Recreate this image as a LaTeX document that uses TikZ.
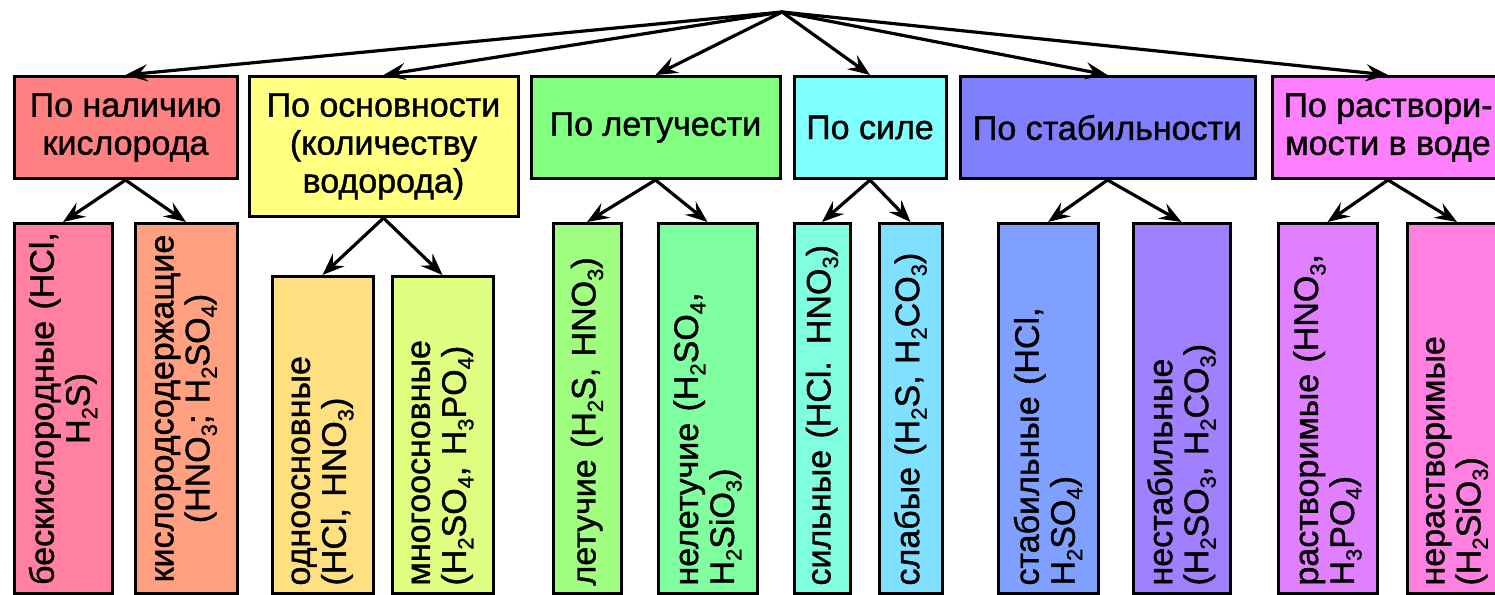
\documentclass[tikz,border=0pt]{standalone}
\usepackage{fontspec}
\setmainfont{Liberation Sans}
\newfontfamily\boxfont[FakeBold=1.2]{Liberation Sans}
\usetikzlibrary{arrows.meta}

\newcommand{\ix}[1]{\raisebox{-0.22em}{\fontsize{22}{22}\selectfont #1}}
\newcommand{\grpfont}{\boxfont\fontsize{34}{38}\selectfont}
\newcommand{\leaffont}{\boxfont\fontsize{34}{36}\selectfont}

\definecolor{cKis}{HTML}{FF8080}
\definecolor{cOsn}{HTML}{FFFF80}
\definecolor{cLetu}{HTML}{80FF80}
\definecolor{cSila}{HTML}{80FFFF}
\definecolor{cStb}{HTML}{8080FF}
\definecolor{cRsv}{HTML}{FF80FF}
\definecolor{cBes}{HTML}{FF80A0}
\definecolor{cKsd}{HTML}{FFA080}
\definecolor{cOdn}{HTML}{FFE080}
\definecolor{cMng}{HTML}{E0FF80}
\definecolor{cLet}{HTML}{A0FF80}
\definecolor{cNel}{HTML}{80FFA0}
\definecolor{cSil}{HTML}{80FFE0}
\definecolor{cSlab}{HTML}{80E0FF}
\definecolor{cStab}{HTML}{80A0FF}
\definecolor{cNest}{HTML}{A080FF}
\definecolor{cRas}{HTML}{E080FF}
\definecolor{cNer}{HTML}{FF80E0}

\begin{document}
\begin{tikzpicture}[x=1pt, y=-1pt,
	group/.style={draw, line width=3pt, anchor=north, align=center, font=\grpfont, inner sep=2pt, minimum height=102pt},
	leaf/.style={draw, line width=3pt, rotate=90, anchor=east, font=\leaffont, inner xsep=8pt, inner ysep=3pt, minimum width=370pt, text width=354pt, align=left},
	link/.style={line width=3.2pt, -{Stealth[length=22pt, width=17pt, inset=8pt]}}]
			\useasboundingbox (0,0) rectangle (1495,594);
			\clip (0,0) rectangle (1495,594);
			
			\coordinate (top) at (782,12);
			
			\node[group, fill=cKis, minimum width=223pt] (kis) at (125.5,75) {По наличию\\кислорода};
			\node[group, fill=cOsn, minimum width=269pt, minimum height=140pt] (osn) at (383.5,75) {По основности\\(количеству\\водорода)};
			\node[group, fill=cLetu, minimum width=249pt] (letu) at (655.5,75) {По летучести};
			\node[group, fill=cSila, minimum width=152pt] (sila) at (870,75) {По силе};
			\node[group, fill=cStb, minimum width=295pt] (stb) at (1107.5,75) {По стабильности};
			\node[group, fill=cRsv, minimum width=232pt] (rsv) at (1388,75) {По раствори-\\мости в воде};
			
			\node[leaf, fill=cBes, minimum height=98pt, align=center] (bes) at (63,222) {\mbox{бескислородные (HCl,}\\H\ix{2}S)};
			\node[leaf, fill=cKsd, minimum height=102pt, align=center] (ksd) at (186,222) {кислородсодержащие\\(HNO\ix{3}; H\ix{2}SO\ix{4})};
			\node[leaf, fill=cOdn, minimum height=101pt, minimum width=317pt, text width=301pt] (odn) at (322.5,275) {одноосновные\\(HCl, HNO\ix{3})};
			\node[leaf, fill=cMng, minimum height=101pt, minimum width=317pt, text width=301pt] (mng) at (442.5,275) {многоосновные\\(H\ix{2}SO\ix{4}, H\ix{3}PO\ix{4})};
			\node[leaf, fill=cLet, minimum height=68pt] (let) at (587,222) {летучие (H\ix{2}S, HNO\ix{3})};
			\node[leaf, fill=cNel, minimum height=99pt] (nel) at (707.5,222) {нелетучие (H\ix{2}SO\ix{4},\\H\ix{2}SiO\ix{3})};
			\node[leaf, fill=cSil, minimum height=56pt] (sil) at (822,222) {сильные (HCl. HNO\ix{3})};
			\node[leaf, fill=cSlab, minimum height=63pt] (slab) at (910.5,222) {слабые (H\ix{2}S, H\ix{2}CO\ix{3})};
			\node[leaf, fill=cStab, minimum height=100pt] (stab) at (1048,222) {стабильные (HCl,\\H\ix{2}SO\ix{4})};
			\node[leaf, fill=cNest, minimum height=97pt] (nest) at (1181.5,222) {нестабильные\\(H\ix{2}SO\ix{3}, H\ix{2}CO\ix{3})};
			\node[leaf, fill=cRas, minimum height=99pt] (ras) at (1327.5,222) {растворимые (HNO\ix{3},\\H\ix{3}PO\ix{4})};
			\node[leaf, fill=cNer, minimum height=100pt] (ner) at (1457,222) {нерастворимые\\(H\ix{2}SiO\ix{3})};
			
			\draw (top) edge[link] (kis.north);
			\draw (top) edge[link] (osn.north);
			\draw (top) edge[link] (letu.north);
			\draw (top) edge[link] (sila.north);
			\draw (top) edge[link] (stb.north);
			\draw (top) edge[link] (rsv.north);
			
			\draw (kis.south) edge[link] (bes.east);
			\draw (kis.south) edge[link] (ksd.east);
			\draw (osn.south) edge[link] (odn.east);
			\draw (osn.south) edge[link] (mng.east);
			\draw (letu.south) edge[link] (let.east);
			\draw (letu.south) edge[link] (nel.east);
			\draw (sila.south) edge[link] (sil.east);
			\draw (sila.south) edge[link] (slab.east);
			\draw (stb.south) edge[link] (stab.east);
			\draw (stb.south) edge[link] (nest.east);
			\draw (rsv.south) edge[link] (ras.east);
			\draw (rsv.south) edge[link] (ner.east);
			
		\end{tikzpicture}
\end{document}
